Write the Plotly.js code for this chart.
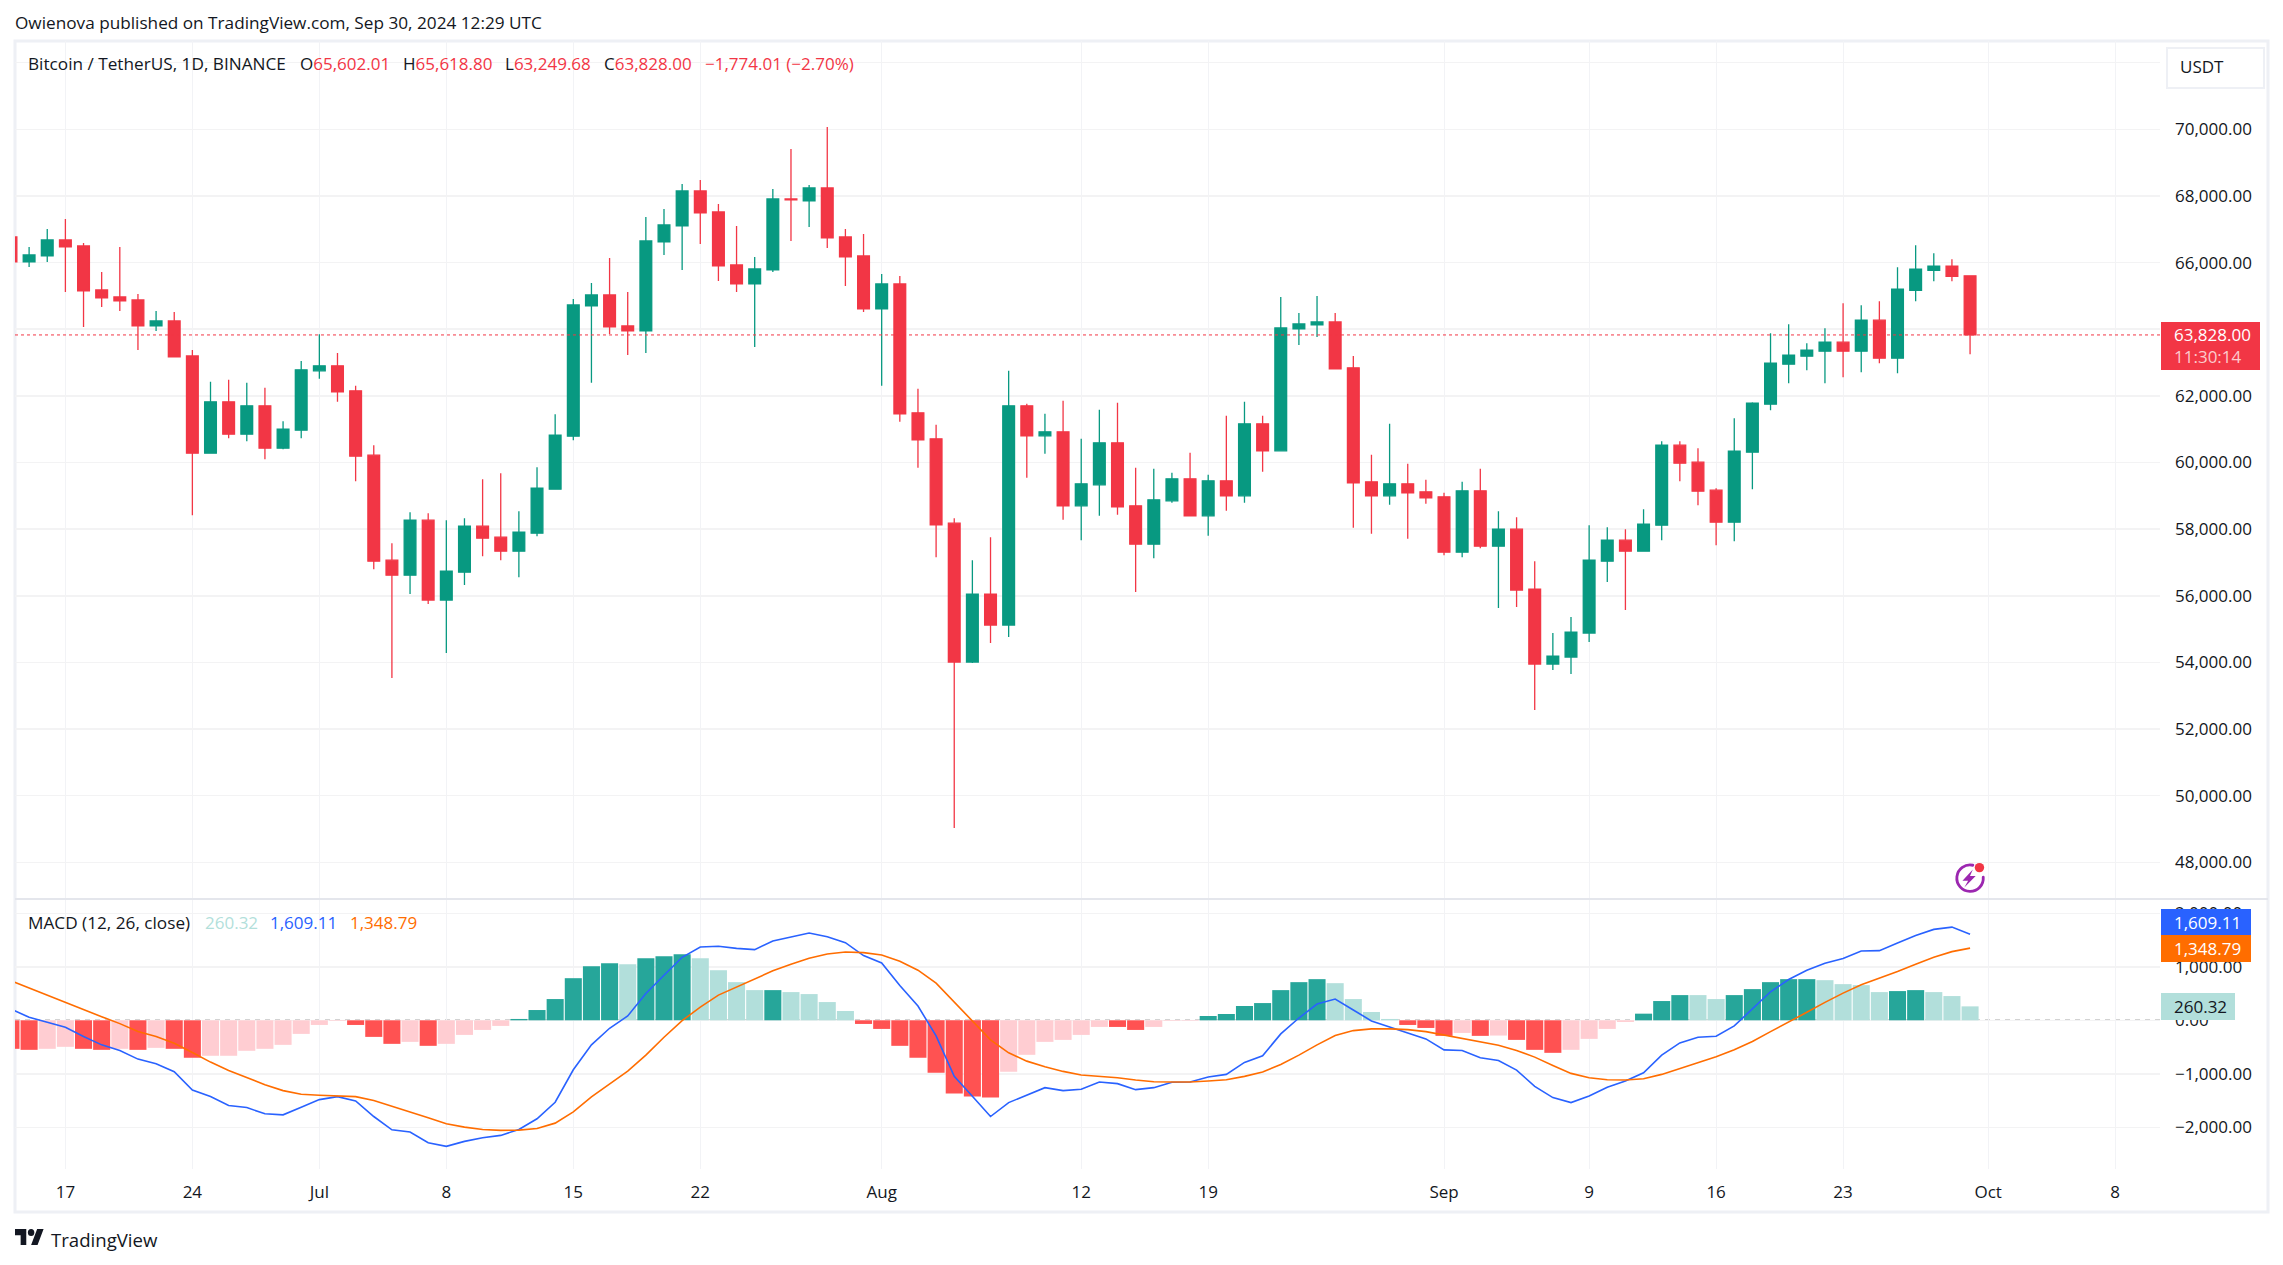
<!DOCTYPE html>
<html>
<head>
<meta charset="utf-8">
<script src="https://cdn.plot.ly/plotly-3.0.1.min.js"></script>
<style>
    html, body { margin: 0; padding: 0; background: #fff; }
    #chart { width: 2283px; height: 1265px; }
</style>
</head>
<body>
<div id="chart"></div>
<script>
// Daily candles, Jun 14 to Sep 30 2024
const firstDay = [2024, 5, 14];
const opens = [66770,66020,66200,66680,66500,65180,64970,64880,64100,64250,
    63200,60280,61820,60850,61700,60430,60970,62750,62900,62150,
    60220,57070,56620,58270,55870,56710,58090,57760,57340,57880,
    59200,60790,64700,65030,64100,63950,66620,67100,68150,67520,
    65930,65360,65780,67910,67850,68240,66770,66200,64610,65360,
    61490,60710,58180,54010,56050,55120,61700,60800,60920,58700,
    59330,60590,58700,57550,58850,59510,58400,59450,59000,61160,
    60350,64010,64130,64220,62840,59420,59000,59360,59120,58970,
    57310,59150,57490,58000,56200,53950,54160,54880,57040,57670,
    57340,58120,60520,60010,59170,58210,60310,61750,62950,63190,
    63340,63610,63340,64270,63130,65170,65770,65890,65602.01];
const highs = [67290,66470,67010,67310,66590,65720,66470,65060,64550,64520,
    63380,62420,62480,62390,62240,61240,63050,63850,63290,62300,
    60520,57580,58510,58480,58270,58330,59500,59680,58540,59860,
    61450,64910,65390,66140,65120,67370,67610,68360,68480,67760,
    67100,66170,68210,69410,68330,70070,67010,66860,65660,65600,
    62210,61130,58330,57070,57760,62750,61760,61460,61850,60710,
    61580,61790,59840,59810,59690,60290,59630,61400,61820,61400,
    64970,64490,65000,64490,63200,60230,61160,59960,59480,59090,
    59420,59810,58540,58360,57040,54880,55360,58120,58060,58000,
    58600,60640,60640,60430,59230,61330,61810,63880,64150,63580,
    64030,64780,64720,64840,65860,66520,66280,66100,65618.80];
const lows = [65060,65870,66020,65120,64070,64670,64550,63380,63950,63170,
    58420,60280,60730,60640,60100,60400,60730,62510,61820,59440,
    56800,53530,56050,55750,54280,56320,57190,57070,56560,57790,
    59200,60670,62390,63860,63230,63290,66230,65780,66560,65450,
    65120,63470,65720,66650,67070,66440,65300,64520,62300,61220,
    59840,57160,49030,53980,54580,54760,59540,60260,58280,57670,
    58400,58430,56110,57130,58790,58400,57800,58550,58790,59720,
    60350,63530,63770,62810,58040,57860,58730,57710,58760,57220,
    57160,57430,55630,55660,52570,53770,53650,54610,56410,55570,
    57340,57670,59440,58720,57520,57640,59200,61570,62380,62770,
    62380,62560,62710,62980,62680,64840,65440,65440,63249.68];
const closes = [66020,66230,66680,66470,65150,64940,64850,64100,64250,63170,
    60280,61820,60850,61700,60430,61000,62780,62900,62120,60190,
    57040,56620,58270,55870,56740,58090,57730,57340,57910,59230,
    60820,64730,65030,64070,63950,66650,67130,68150,67490,65900,
    65360,65810,67910,67880,68240,66740,66170,64610,65360,61460,
    60680,58130,54010,56050,55120,61700,60800,60920,58700,59360,
    60590,58670,57550,58880,59510,58400,59450,59000,61160,60350,
    64040,64160,64220,62810,59390,59000,59360,59090,58940,57310,
    59150,57490,58000,56170,53950,54190,54910,57070,57670,57340,
    58150,60520,59980,59140,58210,60340,61780,62980,63220,63370,
    63610,63340,64270,63130,65200,65800,65890,65590,63828.00];
const lastClose = 63828;

// MACD pane
const macdHist = [-533,-552,-533,-496,-533,-552,-533,-552,-515,-533,
    -700,-663,-663,-570,-533,-459,-254,-87,-12,-87,
    -310,-440,-403,-477,-440,-273,-180,-105,25,192,
    397,787,1010,1066,1048,1159,1197,1234,1159,936,
    713,564,564,527,490,341,174,-68,-161,-477,
    -700,-980,-1370,-1426,-1445,-961,-645,-403,-366,-273,
    -124,-124,-180,-124,-12,-10,81,118,267,322,
    564,713,769,694,397,155,25,-87,-143,-291,
    -236,-291,-285,-366,-552,-608,-552,-347,-161,-31,
    124,360,471,471,397,471,583,713,769,769,
    750,676,657,527,546,564,527,453,260.32];
// 1 = strong bar colour, 0 = pale bar colour
const histStrong = [1,1,0,0,1,1,0,1,0,1,
    1,0,0,0,0,0,0,0,0,1,
    1,1,0,1,0,0,0,0,1,1,
    1,1,1,1,0,1,1,1,0,0,
    0,0,1,0,0,0,0,1,1,1,
    1,1,1,1,1,0,0,0,0,0,
    0,1,1,0,0,0,1,1,1,1,
    1,1,1,0,0,0,0,1,1,1,
    0,1,0,1,1,1,0,0,0,0,
    1,1,1,0,0,1,1,1,1,1,
    0,0,0,0,1,1,0,0,0];
const macdLine = [211,56,-37,-130,-304,-459,-564,-725,-812,-961,
    -1302,-1426,-1593,-1631,-1748,-1767,-1624,-1482,-1426,-1507,
    -1798,-2046,-2089,-2288,-2356,-2263,-2195,-2151,-2040,-1841,
    -1531,-924,-459,-149,81,502,843,1178,1370,1383,
    1345,1321,1482,1556,1631,1562,1451,1209,1073,651,
    267,-291,-1048,-1420,-1798,-1538,-1401,-1259,-1314,-1290,
    -1153,-1184,-1296,-1259,-1159,-1153,-1060,-1011,-787,-663,
    -254,43,304,397,192,-12,-124,-242,-347,-552,
    -564,-701,-750,-930,-1234,-1445,-1538,-1414,-1252,-1135,
    -980,-651,-422,-316,-298,-105,223,533,763,936,
    1066,1153,1296,1302,1445,1587,1699,1742,1609.11];
const signalLine = [738,601,471,341,205,68,-62,-211,-304,-428,
    -601,-781,-936,-1073,-1203,-1314,-1383,-1401,-1407,-1426,
    -1500,-1606,-1705,-1823,-1934,-1996,-2040,-2058,-2052,-2021,
    -1922,-1711,-1432,-1184,-949,-651,-316,-6,248,471,
    620,763,924,1048,1159,1240,1277,1265,1221,1104,
    936,694,341,-19,-366,-608,-763,-868,-955,-1023,
    -1048,-1073,-1116,-1147,-1153,-1153,-1135,-1110,-1048,-967,
    -825,-651,-459,-285,-192,-161,-161,-174,-211,-273,
    -329,-397,-465,-564,-688,-843,-992,-1073,-1110,-1116,
    -1091,-1011,-899,-781,-682,-552,-397,-211,-37,149,
    335,508,663,781,911,1048,1178,1283,1348.79];

// Axis ticks
const timeTickVals = ['2024-06-17','2024-06-24','2024-07-01','2024-07-08','2024-07-15','2024-07-22','2024-08-01','2024-08-12','2024-08-19','2024-09-01','2024-09-09','2024-09-16','2024-09-23','2024-10-01','2024-10-08'];
const timeTickText = ['17','24','Jul','8','15','22','Aug','12','19','Sep','9','16','23','Oct','8'];
const priceTicks = [72000,70000,68000,66000,64000,62000,60000,58000,56000,54000,52000,50000,48000];
const priceTickText = ['72,000.00','70,000.00','68,000.00','66,000.00','64,000.00','62,000.00','60,000.00','58,000.00','56,000.00','54,000.00','52,000.00','50,000.00','48,000.00'];
const macdTicks = [2000,1000,0,-1000,-2000];
const macdTickText = ['2,000.00','1,000.00','0.00','−1,000.00','−2,000.00'];

const days = opens.map((v, i) => new Date(Date.UTC(firstDay[0], firstDay[1], firstDay[2] + i)).toISOString().slice(0, 10));

const UP = '#089981', DOWN = '#F23645';
const TEXT = '#131722';
const FONT = 'Open Sans, sans-serif';
const FS = 17;

// page pixel -> paper coords, the plot area is x 15..2160, y 41..1169
const px = (x) => (x - 15) / 2145;
const py = (y) => (1169 - y) / 1128;

const histColors = macdHist.map((v, i) => {
    if(v >= 0) return histStrong[i] ? '#26A69A' : '#B2DFDB';
    return histStrong[i] ? '#FF5252' : '#FFCDD2';
});

// annotations sit 2px in from x because of their padding
const label = (text, x, y, color, size) => ({
    text: text, x: px(x - 2), y: py(y), xref: 'paper', yref: 'paper',
    xanchor: 'left', yanchor: 'middle', showarrow: false,
    font: {family: FONT, size: size || FS, color: color}
});

// filled box on the right axis, has to cover the tick labels so it's an annotation too
const box = (x0, y0, w, h, bg, border) => ({
    text: '&nbsp;', x: px(x0), y: py(y0), xref: 'paper', yref: 'paper',
    xanchor: 'left', yanchor: 'top', showarrow: false,
    width: w, height: h, borderpad: 0, bgcolor: bg,
    bordercolor: border || bg, borderwidth: border ? 2 : 0,
    font: {family: FONT, size: 10, color: bg}
});

const red = (s) => `<span style="color:${DOWN}">${s}</span>`;

const annotations = [
    label('Owienova published on TradingView.com, Sep 30, 2024 12:29 UTC', 15, 22.5, TEXT, 17.2),
    label('Bitcoin / TetherUS, 1D, BINANCE', 27.5, 63.5, TEXT, 17.2),
    label('O' + red('65,602.01'), 300, 63.5, TEXT),
    label('H' + red('65,618.80'), 403, 63.5, TEXT),
    label('L' + red('63,249.68'), 505, 63.5, TEXT),
    label('C' + red('63,828.00'), 604, 63.5, TEXT),
    label('−1,774.01 (−2.70%)', 705, 63.5, DOWN),
    label('MACD (12, 26, close)', 27.5, 922, TEXT, 17.2),
    label('260.32', 204.5, 922, '#B2DFDB'),
    label('1,609.11', 270, 922, '#2962FF'),
    label('1,348.79', 350, 922, '#FF6D00'),
    label('TradingView', 51, 1239, TEXT, 18.6),
    box(2161, 322, 99, 48, DOWN),
    label('63,828.00', 2174, 335, '#FFFFFF'),
    label('11:30:14', 2174, 356, '#FCCBCD'),
    box(2161, 909, 90, 26, '#2962FF'),
    label('1,609.11', 2174, 922, '#FFFFFF'),
    box(2161, 935, 90, 27, '#FF6D00'),
    label('1,348.79', 2174, 948.5, '#FFFFFF'),
    box(2161, 993, 74, 27, '#B2DFDB'),
    label('260.32', 2174, 1006.5, TEXT),
    box(2166, 47, 95, 38, '#FFFFFF', '#EEF0F5'),
    label('USDT', 2180, 66, TEXT)
];

const shapes = [
    // frame and pane separator
    {type: 'rect', xref: 'paper', yref: 'paper', x0: px(15), x1: px(2268), y0: py(41), y1: py(1212), line: {color: '#EEF0F5', width: 3}, layer: 'below'},
    {type: 'line', xref: 'paper', yref: 'paper', x0: px(15), x1: px(2268), y0: py(899), y1: py(899), line: {color: '#E4E6EC', width: 2}},
    // last price and zero line
    {type: 'line', xref: 'paper', yref: 'y', x0: 0, x1: 1, y0: lastClose, y1: lastClose, line: {color: DOWN, width: 1, dash: 'dot'}},
    {type: 'line', xref: 'paper', yref: 'y2', x0: 0, x1: 1, y0: 0, y1: 0, line: {color: '#A8A8A8', width: 1.5, dash: '5px,5px'}, layer: 'below'}
];

const logoSvg = "<svg xmlns='http://www.w3.org/2000/svg' viewBox='0 4 36 18'><path fill='#131722' d='M14 22H7V11H0V4h14v18zM28 22h-8l7.5-18h8L28 22z'/><circle fill='#131722' cx='20' cy='8' r='4'/></svg>";
const boltSvg = "<svg xmlns='http://www.w3.org/2000/svg' viewBox='0 0 36 36'><path fill='none' stroke='#9C27B0' stroke-width='3' stroke-linecap='round' d='M21 4.5A14 14 0 1 0 32 17'/><path fill='#9C27B0' d='M21 9 10 21h6l-4 7 12-12h-6z'/><circle fill='#F23645' cx='28' cy='7' r='5'/></svg>";
const svgUrl = (s) => 'data:image/svg+xml;utf8,' + encodeURIComponent(s);

const images = [
    {source: svgUrl(logoSvg), xref: 'paper', yref: 'paper', x: px(15), y: py(1229), sizex: 29 / 2145, sizey: 16 / 1128, sizing: 'stretch', xanchor: 'left', yanchor: 'top', layer: 'above'},
    {source: svgUrl(boltSvg), xref: 'paper', yref: 'paper', x: px(1953), y: py(861), sizex: 34 / 2145, sizey: 34 / 1128, sizing: 'stretch', xanchor: 'left', yanchor: 'top', layer: 'above'}
];

const traces = [
    {
        type: 'bar', x: days, y: macdHist, yaxis: 'y2', width: 0.94 * 86400000,
        marker: {color: histColors, line: {width: 0}}, hoverinfo: 'skip'
    },
    {
        type: 'scatter', mode: 'lines', x: days, y: macdLine, yaxis: 'y2',
        line: {color: '#2962FF', width: 1.6}, hoverinfo: 'skip'
    },
    {
        type: 'scatter', mode: 'lines', x: days, y: signalLine, yaxis: 'y2',
        line: {color: '#FF6D00', width: 1.6}, hoverinfo: 'skip'
    },
    {
        type: 'candlestick', x: days, open: opens, high: highs, low: lows, close: closes, yaxis: 'y',
        whiskerwidth: 0,
        increasing: {line: {color: UP, width: 1.3}, fillcolor: UP},
        decreasing: {line: {color: DOWN, width: 1.3}, fillcolor: DOWN},
        hoverinfo: 'skip'
    }
];

const tickFont = {family: FONT, size: FS, color: TEXT};

const layout = {
    width: 2283, height: 1265,
    margin: {l: 15, r: 123, t: 41, b: 96},
    paper_bgcolor: '#FFFFFF', plot_bgcolor: '#FFFFFF',
    showlegend: false, hovermode: false, dragmode: false,
    boxgap: 0.2, boxgroupgap: 0.19,
    xaxis: {
        type: 'date', anchor: 'y2',
        range: ['2024-06-14 05:20', '2024-10-10 11:17'],
        tickmode: 'array', tickvals: timeTickVals, ticktext: timeTickText, tickangle: 0,
        tickfont: tickFont, ticks: '', ticklabelstandoff: 11,
        showgrid: true, gridcolor: '#F2F3F6', gridwidth: 1,
        showline: false, zeroline: false,
        rangeslider: {visible: false}
    },
    yaxis: {
        domain: [py(899), 1], range: [46900, 72650], side: 'right', anchor: 'x',
        tickmode: 'array', tickvals: priceTicks, ticktext: priceTickText,
        tickfont: tickFont, ticks: '', ticklabelstandoff: 14,
        showgrid: true, gridcolor: '#F3F3F4', gridwidth: 1.5,
        showline: false, zeroline: false
    },
    yaxis2: {
        domain: [0, py(899)], range: [-2779, 2267], side: 'right', anchor: 'x',
        tickmode: 'array', tickvals: macdTicks, ticktext: macdTickText,
        tickfont: tickFont, ticks: '', ticklabelstandoff: 14,
        showgrid: true, gridcolor: '#F3F3F4', gridwidth: 1.5,
        showline: false, zeroline: false
    },
    shapes: shapes,
    annotations: annotations,
    images: images
};

Plotly.newPlot('chart', traces, layout, {displayModeBar: false, staticPlot: true});
</script>
</body>
</html>
